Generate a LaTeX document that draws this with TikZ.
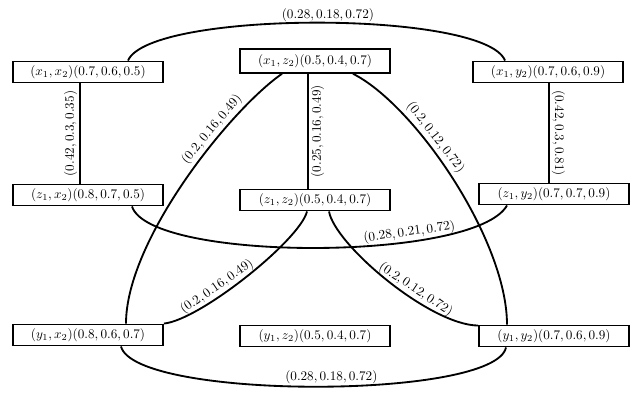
\documentclass[tikz,border=0pt]{standalone}
\usetikzlibrary{calc}
\begin{document}
\begin{tikzpicture}[x=0.76pt,y=-0.76pt,
  pbox/.style={draw, line width=1.4pt, minimum width=114pt, minimum height=16pt, inner sep=0pt, font=\normalsize},
  conn/.style={line width=1.4pt},
  elab/.style={inner sep=1.5pt, font=\normalsize}]
\useasboundingbox (0,0) rectangle (637,394);
\node[pbox] (x1x2) at (88,72) {$(x_1,x_2)(0.7,0.6,0.5)$};
\node[pbox, minimum height=18pt] (x1z2) at (315,61) {$(x_1,z_2)(0.5,0.4,0.7)$};
\node[pbox] (x1y2) at (548,72) {$(x_1,y_2)(0.7,0.6,0.9)$};
\node[pbox] (z1x2) at (88,195) {$(z_1,x_2)(0.8,0.7,0.5)$};
\node[pbox] (z1z2) at (315,200) {$(z_1,z_2)(0.5,0.4,0.7)$};
\node[pbox] (z1y2) at (554,194) {$(z_1,y_2)(0.7,0.7,0.9)$};
\node[pbox] (y1x2) at (88,335) {$(y_1,x_2)(0.8,0.6,0.7)$};
\node[pbox] (y1z2) at (315,336) {$(y_1,z_2)(0.5,0.4,0.7)$};
\node[pbox] (y1y2) at (554,336) {$(y_1,y_2)(0.7,0.6,0.9)$};
% top arc
\draw[conn] ($(x1x2.north)+(40,0)$) .. controls (150,10) and (485,10) .. ($(x1y2.north)+(-43,0)$)
  node[elab, pos=0.52, above, inner sep=0.3pt] {$(0.28,0.18,0.72)$};
% verticals
\draw[conn] ($(x1x2.south)+(-8,0)$) -- ($(z1x2.north)+(-8,0)$)
  node[elab, midway, rotate=90, above] {$(0.42,0.3,0.35)$};
\draw[conn] ($(x1z2.south)+(-7,0)$) -- ($(z1z2.north)+(-7,0)$)
  node[elab, midway, rotate=90, below] {$(0.25,0.16,0.49)$};
\draw[conn] ($(x1y2.south)+(1,0)$) -- ($(z1y2.north)+(-5,0)$)
  node[elab, midway, rotate=-90, above] {$(0.42,0.3,0.81)$};
% from x1z2
\draw[conn] ($(x1z2.south)+(-33,0)$) .. controls (230,110) and (126,240) .. ($(y1x2.north)+(38,0)$)
  node[elab, pos=0.33, sloped, above] {$(0.2,0.16,0.49)$};
\draw[conn] ($(x1z2.south)+(38,0)$) .. controls (415,105) and (507,240) .. ($(y1y2.north)+(-47,0)$)
  node[elab, pos=0.37, sloped, above] {$(0.2,0.12,0.72)$};
% z1x2 -- z1y2
\draw[conn] ($(z1x2.south)+(44,0)$) .. controls (150,262) and (475,262) .. ($(z1y2.south)+(-47,0)$)
  node[elab, pos=0.69, sloped, above] {$(0.28,0.21,0.72)$};
% from z1z2
\draw[conn] ($(z1z2.south)+(-8,0)$) .. controls (300,240) and (200,320) .. (y1x2.north east)
  node[elab, pos=0.63, sloped, above] {$(0.2,0.16,0.49)$};
\draw[conn] ($(z1z2.south)+(14,0)$) .. controls (335,245) and (430,325) .. ($(y1y2.north west)+(0,1)$)
  node[elab, pos=0.62, sloped, above] {$(0.2,0.12,0.72)$};
% bottom arc
\draw[conn] ($(y1x2.south)+(33,0)$) .. controls (135,400) and (495,400) .. ($(y1y2.south)+(-48,0)$)
  node[elab, pos=0.53, above] {$(0.28,0.18,0.72)$};
\end{tikzpicture}
\end{document}
